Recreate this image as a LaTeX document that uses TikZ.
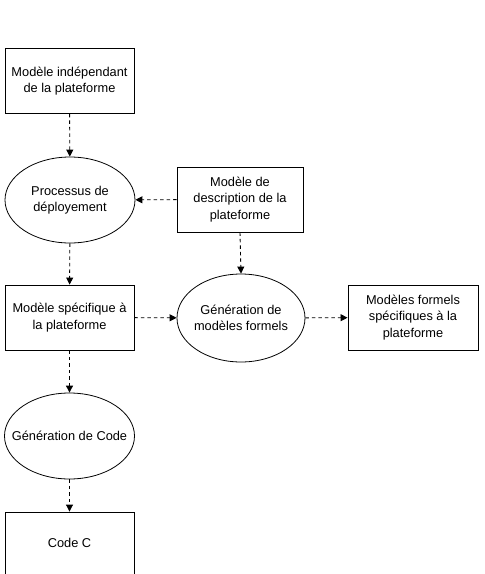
\documentclass[tikz,border=0pt]{standalone}
\usepackage{fontspec}
\setmainfont{Liberation Sans}
\usetikzlibrary{shapes.geometric,arrows.meta}
\tikzset{
  every node/.style={font=\fontsize{12.8}{16.5}\selectfont, align=center, inner sep=0pt},
  boxnode/.style={draw, line width=0.9pt, rectangle, minimum width=129pt, minimum height=65pt},
  ovalnode/.style={draw, line width=0.8pt, ellipse, minimum width=130pt, minimum height=86pt},
  conn/.style={line width=0.9pt, dash pattern=on 3.5pt off 3pt, -{Triangle[length=7pt,width=7pt]}}
}
\begin{document}
\begin{tikzpicture}[x=1pt,y=-1pt]
\useasboundingbox (0,0) rectangle (485,574);
\node[boxnode] (pim) at (69.5,81) {Modèle indépendant\\de la plateforme};
\node[ovalnode, label={center:{Processus de\\déployement}}] (dep) at (70,200) {};
\node[boxnode, minimum width=126pt] (desc) at (240,199.5) {Modèle de\\description de la\\plateforme};
\node[boxnode] (psm) at (69.5,317.5) {Modèle spécifique à\\la plateforme};
\node[ovalnode, minimum width=128pt, minimum height=88pt, label={center:{Génération de\\modèles formels}}] (gen) at (241,318) {};
\node[boxnode, minimum width=130pt] (mf) at (413,317.5) {Modèles formels\\spécifiques à la\\plateforme};
\node[ovalnode, label={center:{Génération de Code}}] (gc) at (69.5,436) {};
\node[boxnode, minimum height=62pt] (code) at (69.5,543) {Code C};
\draw[conn] (pim) -- (dep);
\draw[conn] (desc) -- (dep);
\draw[conn] (dep) -- (psm);
\draw[conn] (desc.south) -- (gen.north);
\draw[conn] (psm) -- (gen);
\draw[conn] (gen) -- (mf);
\draw[conn] (psm) -- (gc);
\draw[conn] (gc) -- (code);
\end{tikzpicture}
\end{document}
